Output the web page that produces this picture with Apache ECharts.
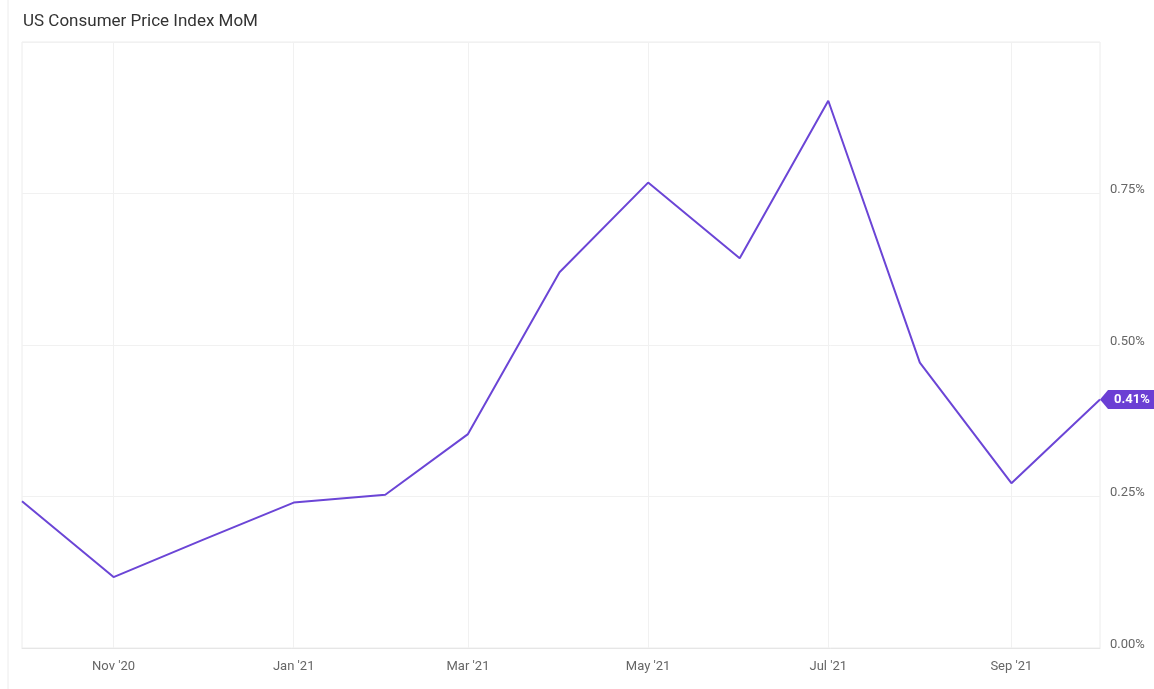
<!DOCTYPE html>
<html>
<head>
<meta charset="utf-8">
<script src="https://cdn.jsdelivr.net/npm/echarts@6/dist/echarts.min.js"></script>
<style>html,body{margin:0;padding:0;background:#fff;}#c{width:1154px;height:689px;}</style>
</head>
<body>
<div id="c"></div>
<script>
const months = ["2020-10-01","2020-11-01","2020-12-01","2021-01-01","2021-02-01","2021-03-01","2021-04-01","2021-05-01","2021-06-01","2021-07-01","2021-08-01","2021-09-01","2021-10-01"];
const cpiMoM = [0.242, 0.117, 0.178, 0.240, 0.253, 0.353, 0.620, 0.768, 0.643, 0.903, 0.471, 0.272, 0.41];
const xTickDates = ["2020-11-01","2021-01-01","2021-03-01","2021-05-01","2021-07-01","2021-09-01"];
const yTicks = [0, 0.25, 0.5, 0.75, 1.0];
const lastLabel = "0.41%";

const monthNames = ['Jan','Feb','Mar','Apr','May','Jun','Jul','Aug','Sep','Oct','Nov','Dec'];
const ts = (s) => Date.UTC(+s.slice(0,4), +s.slice(5,7) - 1, +s.slice(8,10));
const fmt = (v) => { const d = new Date(v); return monthNames[d.getUTCMonth()] + " '" + String(d.getUTCFullYear()).slice(2); };
const seriesData = months.map((m, i) => [ts(m), cpiMoM[i]]);
const tickVals = xTickDates.map(ts);

const chart = echarts.init(document.getElementById('c'));
chart.setOption({
  animation: false,
  backgroundColor: '#fff',
  title: {
    text: 'US Consumer Price Index MoM',
    left: 18, top: 8,
    textStyle: {fontFamily: 'Roboto', fontSize: 17, fontWeight: 'normal', color: '#333'}
  },
  graphic: [{type: 'line', shape: {x1: 8, y1: 0, x2: 8, y2: 689}, style: {stroke: '#ececec', lineWidth: 1}}],
  grid: {left: 22, right: 54, top: 42, bottom: 41, show: true, borderColor: '#ececec', borderWidth: 1},
  xAxis: {
    type: 'value', min: ts(months[0]), max: ts(months[months.length - 1]),
    axisLine: {show: true, lineStyle: {color: '#e6e6e6'}},
    axisTick: {show: false, customValues: tickVals},
    axisLabel: {customValues: tickVals, formatter: fmt, color: '#666', fontFamily: 'Roboto', fontSize: 13, margin: 12},
    splitLine: {show: true, lineStyle: {color: '#f1f1f1'}}
  },
  yAxis: {
    type: 'value', position: 'right', min: yTicks[0], max: yTicks[yTicks.length-1], interval: 0.25,
    axisLine: {show: false}, axisTick: {show: false},
    axisLabel: {color: '#666', fontFamily: 'Roboto', fontSize: 13, margin: 10, showMaxLabel: false,
      formatter: (v) => v.toFixed(2) + '%', verticalAlign: 'bottom', padding: [0,0,-3,0]},
    splitLine: {lineStyle: {color: '#f1f1f1'}}
  },
  series: [{
    type: 'line', data: seriesData, symbol: 'none',
    lineStyle: {color: '#6b45d6', width: 2},
    markPoint: {
      symbol: 'path://M0,9 L8,0 L60,0 L60,18 L8,18 Z',
      symbolSize: [60, 19], symbolKeepAspect: false, symbolOffset: [30, 0],
      itemStyle: {color: '#6b3fd4'},
      label: {show: true, formatter: lastLabel, color: '#fff', fontWeight: 'bold', fontFamily: 'Roboto', fontSize: 13, offset: [2, 0]},
      data: [{coord: seriesData[seriesData.length - 1]}]
    }
  }]
});
</script>
</body>
</html>
